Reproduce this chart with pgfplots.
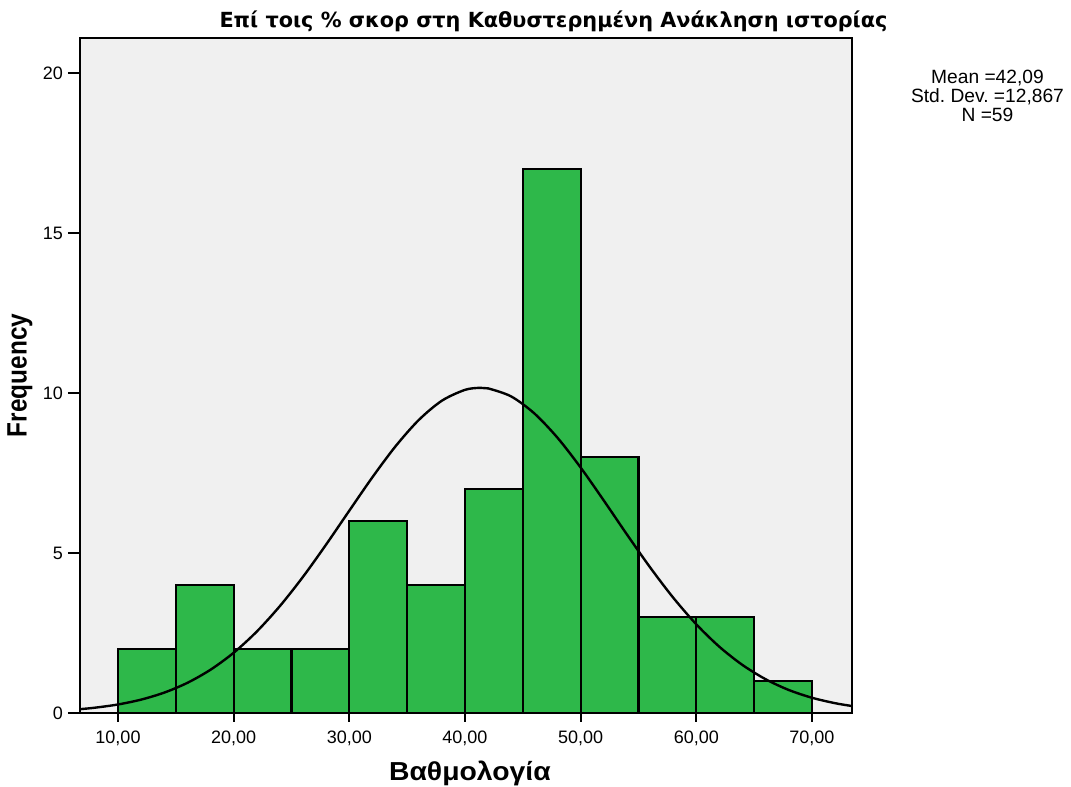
\documentclass[border=0pt]{standalone}
\usepackage{pgfplots}
\pgfplotsset{compat=1.18}
\usepackage{fontspec}
\setmainfont{Liberation Sans}
\newfontfamily\titlefont{DejaVu Sans}
\definecolor{bargreen}{RGB}{46,184,74}
\definecolor{bggray}{RGB}{240,240,240}
\begin{document}
\frenchspacing
\begin{tikzpicture}
\path[use as bounding box] (-60pt,-55.5pt) rectangle (743.25pt,534.75pt);
\begin{axis}[
  at={(0pt,0pt)}, anchor=south west,
  scale only axis, width=579pt, height=506.25pt,
  xmin=6.715, xmax=73.46, ymin=0, ymax=21.09,
  axis background/.style={fill=bggray},
  axis line style={line width=1.5pt, black},
  xtick={10,20,30,40,50,60,70},
  xticklabels={{10,00},{20,00},{30,00},{40,00},{50,00},{60,00},{70,00}},
  ytick={0,5,10,15,20},
  xtick pos=bottom, ytick pos=left, tick align=outside,
  xtick style={line width=1.5pt, black, /pgfplots/major tick length=6.75pt},
  ytick style={line width=1.5pt, black, /pgfplots/major tick length=9pt},
  x tick label style={font=\fontsize{13.5}{16}\selectfont, yshift=-6pt},
  y tick label style={font=\fontsize{13.5}{16}\selectfont, xshift=-5pt},
  /pgf/number format/assume math mode=true,
  xlabel={\scalebox{1.09}[1]{Βαθμολογία}},
  xlabel style={font=\bfseries\fontsize{19.5}{22}\selectfont, at={(axis description cs:0.505,0)}, anchor=center, yshift=-45pt},
  ylabel={\scalebox{0.87}[1]{Frequency}},
  ylabel style={font=\bfseries\fontsize{21}{24}\selectfont, at={(axis description cs:-0.0777,0.5)}, anchor=center},
  title={Επί τοις \% σκορ στη Καθυστερημένη Ανάκληση ιστορίας},
  title style={font=\titlefont\bfseries\fontsize{15.6}{17}\selectfont, at={(axis description cs:0.6133,1)}, anchor=base, yshift=2pt},
]
\addplot[ybar interval, fill=bargreen, draw=black, line width=1.6pt] coordinates {
  (10,2) (15,4) (20,2) (25,2) (30,6) (35,4) (40,7) (45,17) (50,8) (55,3) (60,3) (65,1) (70,1)
};
\addplot[smooth, black, line width=1.8pt] coordinates {
  (6.7,0.119) (8,0.165) (10,0.266) (12,0.418) (14,0.637) (16,0.942) (18,1.352) (20,1.882)
  (22,2.545) (24,3.342) (26,4.257) (28,5.266) (30,6.322) (32,7.368) (34,8.335) (36,9.153)
  (38,9.757) (40,10.096) (41.3,10.16) (42,10.142) (44,9.889) (46,9.359) (48,8.599) (50,7.669)
  (52,6.639) (54,5.579) (56,4.552) (58,3.604) (60,2.770) (62,2.067) (64,1.498) (66,1.053)
  (68,0.718) (70,0.476) (72,0.306) (73.46,0.218)
};
\end{axis}
\node[align=center, font=\fontsize{14.4}{14.25}\selectfont] at (680.6pt,462.75pt) {Mean =42,09\\Std. Dev. =12,867\\N =59};
\end{tikzpicture}
\end{document}
